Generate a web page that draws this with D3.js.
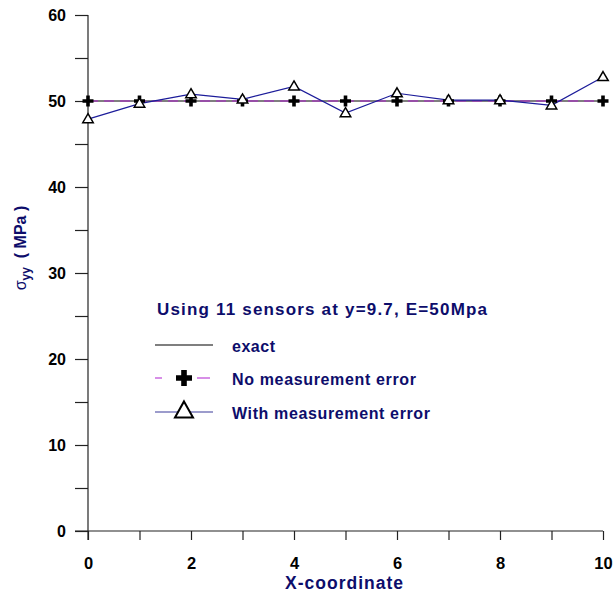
<!DOCTYPE html>
<html>
<head>
<meta charset="utf-8">
<script src="https://cdn.jsdelivr.net/npm/d3@7"></script>
<style>
  html, body { margin: 0; padding: 0; background: #fff; }
  svg { display: block; font-family: "Liberation Sans", Arial, sans-serif; }
</style>
</head>
<body>
<svg id="chart" width="613" height="595"></svg>
<script>
// Stress sigma_yy along the sensor line
const xPositions = [0, 1, 2, 3, 4, 5, 6, 7, 8, 9, 10];
const exactValues = [50, 50, 50, 50, 50, 50, 50, 50, 50, 50, 50];
const noErrorValues = [50, 50, 50, 50, 50, 50, 50, 50, 50, 50, 50];
const withErrorValues = [47.9, 49.7, 50.8, 50.2, 51.7, 48.6, 50.9, 50.1, 50.1, 49.5, 52.8];
const xTickLabels = [0, 2, 4, 6, 8, 10];
const yTickLabels = [0, 10, 20, 30, 40, 50, 60];
const legendTitle = "Using 11 sensors at y=9.7, E=50Mpa";
const seriesNames = ["exact", "No measurement error", "With measurement error"];
const seriesLabelWidths = [43, 184, 198];

const navy = "#0d0d6b";
const svg = d3.select("#chart");

const x = d3.scaleLinear().domain([0, 10]).range([88, 603]);
const y = d3.scaleLinear().domain([0, 60]).range([531, 15]);

// axes
const xAxis = d3.axisBottom(x).tickValues(d3.range(0, 11, 1)).tickSize(9)
  .tickFormat(d => xTickLabels.includes(d) ? d : "");
const gx = svg.append("g").attr("transform", `translate(0,${y(0)})`).call(xAxis);
gx.select(".domain").remove();
gx.append("line").attr("x1", 75).attr("x2", 603).attr("stroke", "#222").attr("stroke-width", 1.2);
gx.selectAll(".tick line").attr("stroke", "#222").attr("stroke-width", 1.2);
gx.selectAll(".tick text").attr("fill", "#000").attr("font-size", 16.5).attr("font-weight", "bold")
  .attr("dy", null).attr("y", 38);

const yAxis = d3.axisLeft(y).tickValues(d3.range(0, 61, 5)).tickSize(13)
  .tickFormat(d => yTickLabels.includes(d) ? d : "");
const gy = svg.append("g").attr("transform", `translate(${x(0)},0)`).call(yAxis);
gy.select(".domain").remove();
gy.append("line").attr("y1", 15).attr("y2", 540).attr("stroke", "#222").attr("stroke-width", 1.2);
gy.selectAll(".tick line").attr("stroke", "#222").attr("stroke-width", 1.2);
gy.selectAll(".tick text").attr("fill", "#000").attr("font-size", 16).attr("font-weight", "bold")
  .attr("x", -22).attr("dy", "0.36em");

// axis titles
svg.append("text").attr("x", 344).attr("y", 589).attr("text-anchor", "middle")
  .attr("fill", navy).attr("font-size", 17.5).attr("font-weight", "bold")
  .attr("textLength", 118).attr("lengthAdjust", "spacing").text("X-coordinate");

const yTitle = svg.append("text").attr("transform", "translate(26,248) rotate(-90)")
  .attr("text-anchor", "middle").attr("fill", navy).attr("font-size", 16).attr("font-weight", "bold")
  .attr("xml:space", "preserve");
yTitle.append("tspan").attr("font-weight", "normal").attr("font-size", 16).text("σ");
yTitle.append("tspan").attr("font-size", 12).attr("dy", 4).text("yy");
yTitle.append("tspan").attr("dy", -4).text("  ( MPa )");

// series lines
const line = d3.line().x((d, i) => x(xPositions[i])).y(d => y(d));

svg.append("path").datum(exactValues).attr("d", line)
  .attr("fill", "none").attr("stroke", "#000").attr("stroke-width", 1.2);
svg.append("path").datum(noErrorValues).attr("d", line)
  .attr("fill", "none").attr("stroke", "#b020d0").attr("stroke-width", 1.2).attr("stroke-dasharray", "10,6");
svg.append("path").datum(withErrorValues).attr("d", line)
  .attr("fill", "none").attr("stroke", "#1c1c9a").attr("stroke-width", 1.2);

// markers
const crossPath = (s, t) => `M${-t},${-s}H${t}V${-t}H${s}V${t}H${t}V${s}H${-t}V${t}H${-s}V${-t}H${-t}Z`;
const triPath = (w, h) => `M0,${-h * 0.6}L${w / 2},${h * 0.4}L${-w / 2},${h * 0.4}Z`;

svg.append("g").selectAll("path").data(noErrorValues).join("path")
  .attr("transform", (d, i) => `translate(${x(xPositions[i])},${y(d)})`)
  .attr("d", crossPath(5.5, 1.8)).attr("fill", "#000");

svg.append("g").selectAll("path").data(withErrorValues).join("path")
  .attr("transform", (d, i) => `translate(${x(xPositions[i])},${y(d)})`)
  .attr("d", triPath(10.5, 9)).attr("fill", "#fff").attr("stroke", "#000").attr("stroke-width", 1.5);

// legend
const lg = svg.append("g");
lg.append("text").attr("x", 157).attr("y", 315).attr("fill", navy)
  .attr("font-size", 17).attr("font-weight", "bold")
  .attr("textLength", 330).attr("lengthAdjust", "spacing").text(legendTitle);

const rows = [345, 378, 412];
lg.append("line").attr("x1", 155).attr("x2", 213).attr("y1", rows[0]).attr("y2", rows[0])
  .attr("stroke", "#000").attr("stroke-width", 1.2);
lg.append("line").attr("x1", 155).attr("x2", 211).attr("y1", rows[1]).attr("y2", rows[1])
  .attr("stroke", "#b020d0").attr("stroke-width", 1.2).attr("stroke-dasharray", "7,35,13");
lg.append("path").attr("transform", `translate(184,${rows[1]})`).attr("d", crossPath(8, 2.8)).attr("fill", "#000");
lg.append("line").attr("x1", 155).attr("x2", 213).attr("y1", rows[2]).attr("y2", rows[2])
  .attr("stroke", "#3a3a9a").attr("stroke-width", 1.2);
lg.append("path").attr("transform", `translate(184,${rows[2] - 1})`).attr("d", triPath(18, 16))
  .attr("fill", "#fff").attr("stroke", "#000").attr("stroke-width", 2);

lg.selectAll("text.item").data(seriesNames).join("text").attr("class", "item")
  .attr("x", 232).attr("y", (d, i) => rows[i] + 7).attr("fill", navy)
  .attr("font-size", 16).attr("font-weight", "bold")
  .attr("textLength", (d, i) => seriesLabelWidths[i]).attr("lengthAdjust", "spacing")
  .text(d => d);
</script>
</body>
</html>
